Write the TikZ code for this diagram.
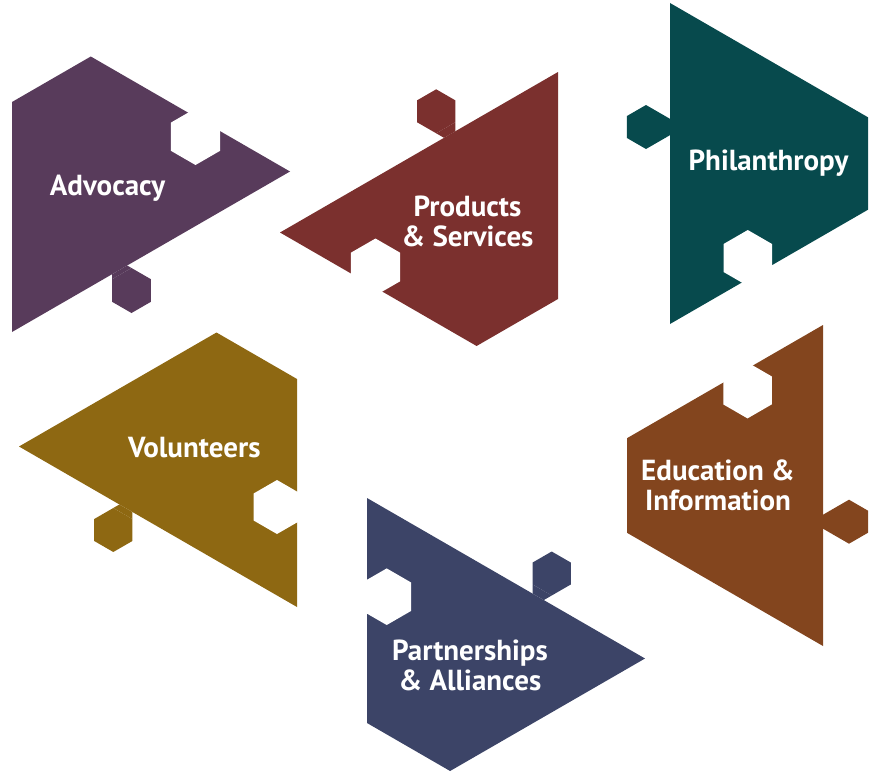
\documentclass[tikz,border=0pt]{standalone}
\usepackage{fontspec}
\setmainfont{PT Sans}
\usetikzlibrary{calc}

\definecolor{advocacy}{RGB}{88,59,91}
\definecolor{products}{RGB}{123,48,46}
\definecolor{philanthropy}{RGB}{7,74,77}
\definecolor{volunteers}{RGB}{142,104,18}
\definecolor{education}{RGB}{131,69,30}
\definecolor{partners}{RGB}{60,68,103}

% corners of a hexagon: 1=lower right, 2=bottom, 3=lower left, 4=upper left, 5=top, 6=upper right
\newcommand{\hexat}[3]{%
  \foreach \ang [count=\k] in {30,90,...,330} {\coordinate (#1\k) at ($(#2)+(\ang:#3)$);}}
\newcommand{\hexpath}[1]{(#11) -- (#12) -- (#13) -- (#14) -- (#15) -- (#16) -- cycle}
% neck between a tab and the edge of its piece
\newcommand{\neck}[6]{(#1#2) -- (intersection of #1#3--#1#2 and #6)
  -- (intersection of #1#5--#1#4 and #6) -- (#1#4) -- cycle}

\begin{document}
\begin{tikzpicture}[
  x=1pt, y=-1pt,
  piecetext/.style={
    text=white,
    font=\bfseries\fontsize{29}{30}\selectfont,
    align=center,
    inner sep=0pt
  }
]
\useasboundingbox (0,0) rectangle (872,776);

%---------------------------------
% Advocacy
%---------------------------------
\coordinate (adv1) at (12,102);
\coordinate (adv2) at (90.8,56.5);
\coordinate (adv3) at (290,171.5);
\coordinate (adv4) at (12,332);
\hexat{advTab}{131.5,290.5}{22.5}
\hexat{advHole}{195.5,136.7}{28.3}
\fill[advocacy] (adv1) -- (adv2) -- (adv3) -- (adv4) -- cycle;
\fill[advocacy] \hexpath{advTab};
\fill[advocacy] \neck{advTab}{4}{3}{5}{6}{adv3--adv4};
\fill[white] \hexpath{advHole};
\node[piecetext] (advocacyText) at (107.5,188) {Advocacy};

%---------------------------------
% Products & Services
%---------------------------------
\coordinate (prd1) at (280,232.5);
\coordinate (prd2) at (558,72);
\coordinate (prd3) at (558,299);
\coordinate (prd4) at (476.6,346);
\hexat{prdTab}{436.2,111.3}{22}
\hexat{prdHole}{375.5,267}{28.5}
\fill[products] (prd1) -- (prd2) -- (prd3) -- (prd4) -- cycle;
\fill[products] \hexpath{prdTab};
\fill[products] \neck{prdTab}{2}{3}{1}{6}{prd1--prd2};
\fill[white] \hexpath{prdHole};
\node[piecetext] (productsText) at (467.5,221) {Products\\\& Services};

%---------------------------------
% Philanthropy
%---------------------------------
\coordinate (phi1) at (670,3);
\coordinate (phi2) at (868,117.3);
\coordinate (phi3) at (868,209.7);
\coordinate (phi4) at (670,324);
\hexat{phiTab}{646,127}{22}
\hexat{phiHole}{747.8,258}{28}
\fill[philanthropy] (phi1) -- (phi2) -- (phi3) -- (phi4) -- cycle;
\fill[philanthropy] \hexpath{phiTab};
\fill[philanthropy] \neck{phiTab}{6}{5}{1}{2}{phi1--phi4};
\fill[white] \hexpath{phiHole};
\node[piecetext] (philanthropyText) at (768.5,163) {Philanthropy};

%---------------------------------
% Volunteers
%---------------------------------
\coordinate (vol1) at (19,446.5);
\coordinate (vol2) at (216.5,332.5);
\coordinate (vol3) at (297,379);
\coordinate (vol4) at (297,607);
\hexat{volTab}{113.3,530}{22}
\hexat{volHole}{277,507}{27}
\fill[volunteers] (vol1) -- (vol2) -- (vol3) -- (vol4) -- cycle;
\fill[volunteers] \hexpath{volTab};
\fill[volunteers] \neck{volTab}{5}{4}{6}{1}{vol4--vol1};
\fill[white] \hexpath{volHole};
\node[piecetext] (volunteersText) at (194.3,448) {Volunteers};

%---------------------------------
% Education & Information
%---------------------------------
\coordinate (edu1) at (823,325);
\coordinate (edu2) at (823,646);
\coordinate (edu3) at (627,532.8);
\coordinate (edu4) at (627,438.2);
\hexat{eduTab}{849,521.7}{22}
\hexat{eduHole}{747.5,390.4}{28}
\fill[education] (edu1) -- (edu2) -- (edu3) -- (edu4) -- cycle;
\fill[education] \hexpath{eduTab};
\fill[education] \neck{eduTab}{4}{5}{3}{2}{edu1--edu2};
\fill[white] \hexpath{eduHole};
\node[piecetext] (educationText) at (718,485) {Education \&\\Information};

%---------------------------------
% Partnerships & Alliances
%---------------------------------
\coordinate (par1) at (367,498);
\coordinate (par2) at (645,658.5);
\coordinate (par3) at (450.1,771);
\coordinate (par4) at (367,723);
\hexat{parTab}{551.7,573.5}{22}
\hexat{parHole}{386.7,596.7}{28.3}
\fill[partners] (par1) -- (par2) -- (par3) -- (par4) -- cycle;
\fill[partners] \hexpath{parTab};
\fill[partners] \neck{parTab}{3}{4}{2}{1}{par1--par2};
\fill[white] \hexpath{parHole};
\node[piecetext] (partnersText) at (470,665) {Partnerships\\\& Alliances};

\end{tikzpicture}
\end{document}
